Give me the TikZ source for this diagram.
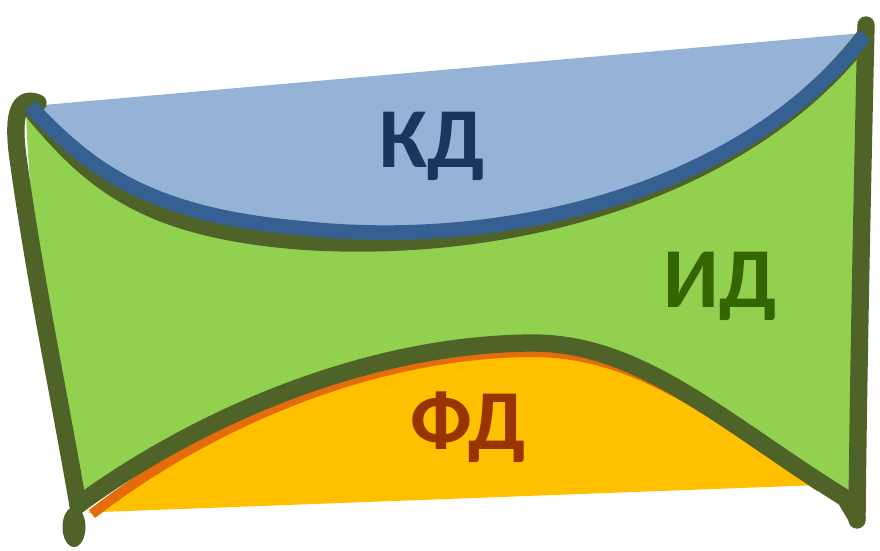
\documentclass[tikz,border=0pt]{standalone}
\usepackage{fontspec}
\setmainfont{Carlito}
\definecolor{bluefill}{HTML}{95B3D7}
\definecolor{bluestroke}{HTML}{376092}
\definecolor{bluetext}{HTML}{17375E}
\definecolor{greenfill}{HTML}{92D050}
\definecolor{darkgreen}{HTML}{4F6228}
\definecolor{greentext}{HTML}{336600}
\definecolor{yellowfill}{HTML}{FFC000}
\definecolor{orangestroke}{HTML}{E46C0A}
\definecolor{browntext}{HTML}{993300}
\begin{document}
\begin{tikzpicture}[x=0.75pt,y=-0.75pt,
  outline/.style={draw=darkgreen,line width=13pt,line cap=round,line join=round},
  label/.style={font=\fontsize{64}{64}\selectfont\bfseries,inner sep=0pt}]
\useasboundingbox (0,0) rectangle (880,550);
% green body
\fill[greenfill] (26,110) .. controls (30,250) and (60,400) .. (78,505)
  .. controls (180,430) and (350,345) .. (530,343)
  .. controls (640,342) and (720,420) .. (850,500)
  -- (857,515) -- (866,25)
  .. controls (740,195) and (500,250) .. (300,228)
  .. controls (150,215) and (90,170) .. (30,107) -- cycle;
% blue region
\fill[bluefill] (32,106) -- (863,33)
  .. controls (740,195) and (500,250) .. (300,228)
  .. controls (150,215) and (90,170) .. (30,107) -- cycle;
% yellow region
\fill[yellowfill] (88,513) .. controls (188,439) and (352,354) .. (530,352)
  .. controls (640,351) and (720,420) .. (820,485) -- (100,512) -- cycle;
% orange edge
\draw[orangestroke,line width=7.5pt] (92,514) .. controls (188,439) and (352,354) .. (530,352)
  .. controls (640,351) and (720,420) .. (820,487);
% dark green outlines
\draw[outline] (38,103) .. controls (16,94) and (12,120) .. (19,165)
  .. controls (35,280) and (60,400) .. (78,505);
\fill[darkgreen] (74,527) ellipse (11.5 and 20);
\draw[outline] (78,505) .. controls (180,430) and (350,345) .. (530,343)
  .. controls (640,342) and (720,420) .. (845,498) -- (857,518);
\draw[outline] (866,25) .. controls (862,200) and (858,400) .. (857,520);
\draw[outline] (34,113) .. controls (95,186) and (150,229) .. (300,241)
  .. controls (500,255) and (740,197) .. (864,37);
% blue edge
\draw[bluestroke,line width=11pt] (30,106) .. controls (90,170) and (150,215) .. (300,228)
  .. controls (500,250) and (740,195) .. (865,35);
% labels
\node[label,text=bluetext] (kd) at (432,146) {КД};
\node[label,text=greentext] (id) at (720,286) {ИД};
\node[label,text=browntext] (fd) at (468,427) {ФД};
\end{tikzpicture}
\end{document}
